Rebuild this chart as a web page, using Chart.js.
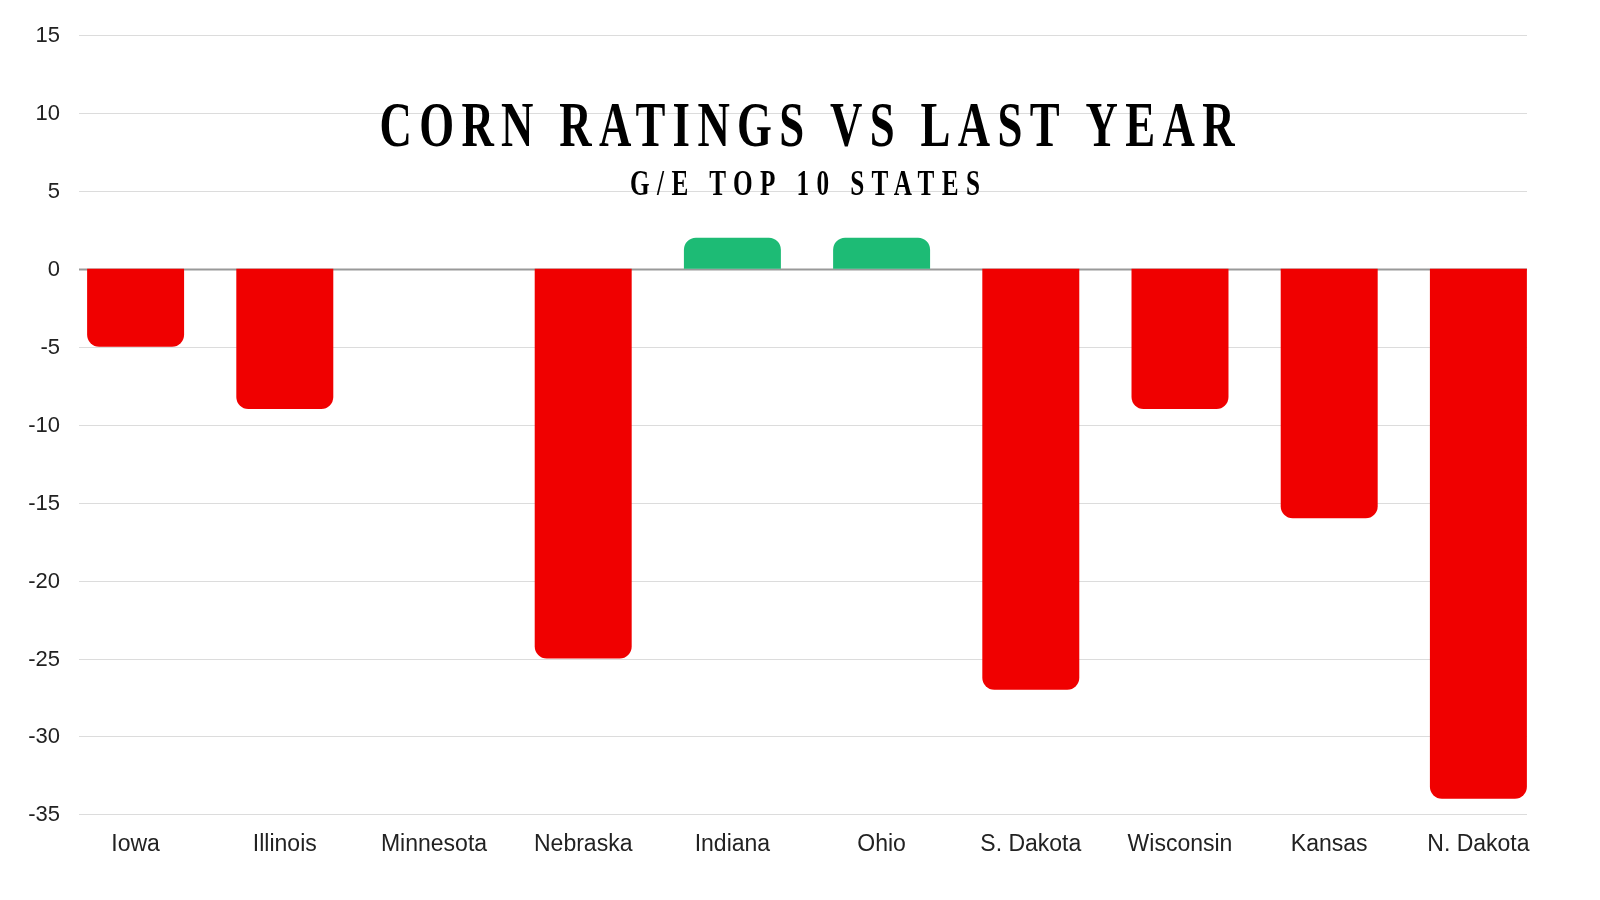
<!DOCTYPE html>
<html><head><meta charset="utf-8">
<script src="https://cdn.jsdelivr.net/npm/chart.js@4/dist/chart.umd.min.js"></script>
<style>html,body{margin:0;background:#fff}#wrap{width:1600px;height:900px}</style>
</head><body><div id="wrap"><canvas id="c"></canvas></div>
<script>
const states = ['Iowa','Illinois','Minnesota','Nebraska','Indiana','Ohio','S. Dakota','Wisconsin','Kansas','N. Dakota'];
const change = [-5, -9, 0, -25, 2, 2, -27, -9, -16, -34];
const yTicks = [15, 10, 5, 0, -5, -10, -15, -20, -25, -30, -35];
const titleText = 'CORN RATINGS VS LAST YEAR';
const subText = 'G/E TOP 10 STATES';

// squeeze condensed caps into a given width, spreading the letters
function spacedText(ctx, text, cx, cy, size, width) {
  const sx = 0.7;
  ctx.save();
  ctx.font = 'bold ' + size + 'px "Liberation Sans Narrow"';
  ctx.letterSpacing = '0px';
  const w = ctx.measureText(text).width;
  const sp = (width / sx - w) / (text.length - 1);
  ctx.letterSpacing = sp + 'px';
  ctx.translate(cx, cy);
  ctx.scale(sx, 1);
  ctx.textAlign = 'left';
  ctx.textBaseline = 'middle';
  ctx.fillStyle = '#000';
  ctx.fillText(text, -width / sx / 2, 0);
  ctx.restore();
}

const decor = {
  id: 'decor',
  beforeDatasetsDraw(chart) {
    const ctx = chart.ctx, y = chart.scales.y;
    ctx.save();
    yTicks.forEach(v => {
      const py = Math.round(y.getPixelForValue(v)) + 0.5;
      ctx.strokeStyle = v === 0 ? '#999' : '#dcdcdc';
      ctx.lineWidth = v === 0 ? 2 : 1;
      ctx.beginPath(); ctx.moveTo(79, py); ctx.lineTo(1527, py); ctx.stroke();
      ctx.fillStyle = '#222';
      ctx.font = '22px "Liberation Sans"';
      ctx.textAlign = 'right';
      ctx.textBaseline = 'middle';
      ctx.fillText(String(v), 60, py);
    });
    ctx.restore();
  },
  afterDraw(chart) {
    spacedText(chart.ctx, titleText, 807, 129, 64, 855);
    spacedText(chart.ctx, subText, 805, 186, 36, 350);
  }
};

new Chart(document.getElementById('c'), {
  type: 'bar',
  data: {
    labels: states,
    datasets: [{
      data: change,
      backgroundColor: change.map(v => v > 0 ? '#1dbb75' : '#f00000'),
      borderRadius: 12,
      borderSkipped: 'start',
      barPercentage: 0.65,
      categoryPercentage: 1
    }]
  },
  options: {
    responsive: true,
    maintainAspectRatio: false,
    animation: false,
    layout: { padding: { top: 35, right: 47, left: 53, bottom: 34 } },
    plugins: { legend: { display: false }, tooltip: { enabled: false } },
    scales: {
      x: {
        grid: { display: false },
        border: { display: false },
        ticks: { color: '#222', padding: 8, font: { family: 'Liberation Sans', size: 23 }, maxRotation: 0 }
      },
      y: {
        min: -35, max: 15,
        ticks: { display: false, stepSize: 5 },
        border: { display: false },
        grid: { display: false }
      }
    }
  },
  plugins: [decor]
});
</script></body></html>
